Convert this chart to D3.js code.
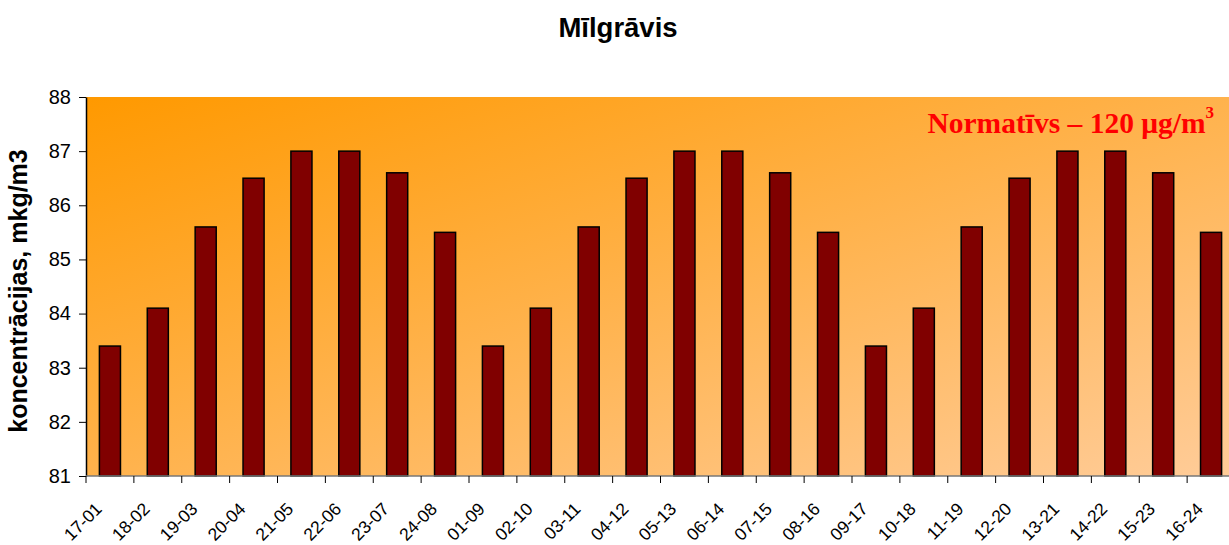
<!DOCTYPE html>
<html>
<head>
<meta charset="utf-8">
<script src="https://cdn.jsdelivr.net/npm/d3@7"></script>
<style>
  body { margin: 0; background: #fff; }
  svg { display: block; font-family: "Liberation Sans", Arial, sans-serif; }
</style>
</head>
<body>
<div id="chart"></div>
<script>
// chart data
const categories = ["17-01", "18-02", "19-03", "20-04", "21-05", "22-06", "23-07", "24-08",
    "01-09", "02-10", "03-11", "04-12", "05-13", "06-14", "07-15", "08-16",
    "09-17", "10-18", "11-19", "12-20", "13-21", "14-22", "15-23", "16-24"];
const values = [83.4, 84.1, 85.6, 86.5, 87, 87, 86.6, 85.5,
    83.4, 84.1, 85.6, 86.5, 87, 87, 86.6, 85.5,
    83.4, 84.1, 85.6, 86.5, 87, 87, 86.6, 85.5];
const yTicks = [81, 82, 83, 84, 85, 86, 87, 88];

const width = 1229, height = 545;
// plot runs a little past the right edge of the picture
const margin = { top: 97, right: -6, bottom: 69, left: 86 };

const svg = d3.select("#chart").append("svg")
    .attr("width", width)
    .attr("height", height);

// background gradient of plot area
const defs = svg.append("defs");
const grad = defs.append("linearGradient")
    .attr("id", "bg")
    .attr("x1", "0%").attr("y1", "0%")
    .attr("x2", "100%").attr("y2", "100%");
grad.append("stop").attr("offset", "0%").attr("stop-color", "#ff9900");
grad.append("stop").attr("offset", "100%").attr("stop-color", "#ffcc99");

const x = d3.scaleBand()
    .domain(categories)
    .range([margin.left, width - margin.right])
    .paddingInner(0.56)
    .paddingOuter(0.28);

const y = d3.scaleLinear()
    .domain([81, 88])
    .range([height - margin.bottom, margin.top]);

svg.append("rect")
    .attr("x", margin.left)
    .attr("y", margin.top)
    .attr("width", width - margin.right - margin.left)
    .attr("height", height - margin.bottom - margin.top)
    .attr("fill", "url(#bg)");

// bars
svg.append("g")
    .selectAll("rect")
    .data(values)
    .join("rect")
    .attr("x", (d, i) => x(categories[i]))
    .attr("y", d => y(d))
    .attr("width", x.bandwidth())
    .attr("height", d => y(81) - y(d))
    .attr("fill", "#800000")
    .attr("stroke", "#000")
    .attr("stroke-width", 1.5);

// y axis
const yAxis = svg.append("g")
    .attr("transform", `translate(${margin.left},0)`)
    .call(d3.axisLeft(y).tickValues(yTicks).tickFormat(d3.format("d")).tickSize(7).tickSizeOuter(0));
yAxis.select(".domain").attr("stroke", "#000").attr("stroke-width", 1.5);
yAxis.selectAll("text")
    .attr("font-size", 20)
    .attr("fill", "#000")
    .attr("x", -15)
    .attr("font-family", "Liberation Sans, Arial, sans-serif");

// x axis with ticks at category boundaries
const step = x.step();
const xg = svg.append("g")
    .attr("transform", `translate(0,${height - margin.bottom})`);
xg.append("line")
    .attr("x1", margin.left).attr("x2", width - margin.right)
    .attr("stroke", "#777").attr("stroke-width", 1.5);
xg.selectAll(".tk")
    .data(categories)
    .join("line")
    .attr("class", "tk")
    .attr("x1", d => x(d) + x.bandwidth() / 2 - step / 2)
    .attr("x2", d => x(d) + x.bandwidth() / 2 - step / 2)
    .attr("y1", 0).attr("y2", 7)
    .attr("stroke", "#000");
xg.selectAll(".lbl")
    .data(categories)
    .join("text")
    .attr("class", "lbl")
    .attr("transform", d => `translate(${x(d) + x.bandwidth() / 2 - 7},34) rotate(-45)`)
    .attr("text-anchor", "end")
    .attr("font-size", 17.5)
    .attr("fill", "#000")
    .text(d => d);

// title
svg.append("text")
    .attr("x", 618)
    .attr("y", 37)
    .attr("text-anchor", "middle")
    .attr("font-size", 27.5)
    .attr("font-weight", "bold")
    .text("Mīlgrāvis");

// y axis title
svg.append("text")
    .attr("transform", `translate(27,291) rotate(-90)`)
    .attr("text-anchor", "middle")
    .attr("font-size", 25)
    .attr("font-weight", "bold")
    .text("koncentrācijas, mkg/m3");

// norm annotation
const note = svg.append("text")
    .attr("x", 1214)
    .attr("y", 133)
    .attr("text-anchor", "end")
    .attr("font-family", "Liberation Serif, Times New Roman, serif")
    .attr("font-size", 29.5)
    .attr("font-weight", "bold")
    .attr("fill", "#ff0000");
note.append("tspan").text("Normatīvs – 120 μg/m");
note.append("tspan").attr("dy", -15).attr("font-size", 17).text("3");
</script>
</body>
</html>
